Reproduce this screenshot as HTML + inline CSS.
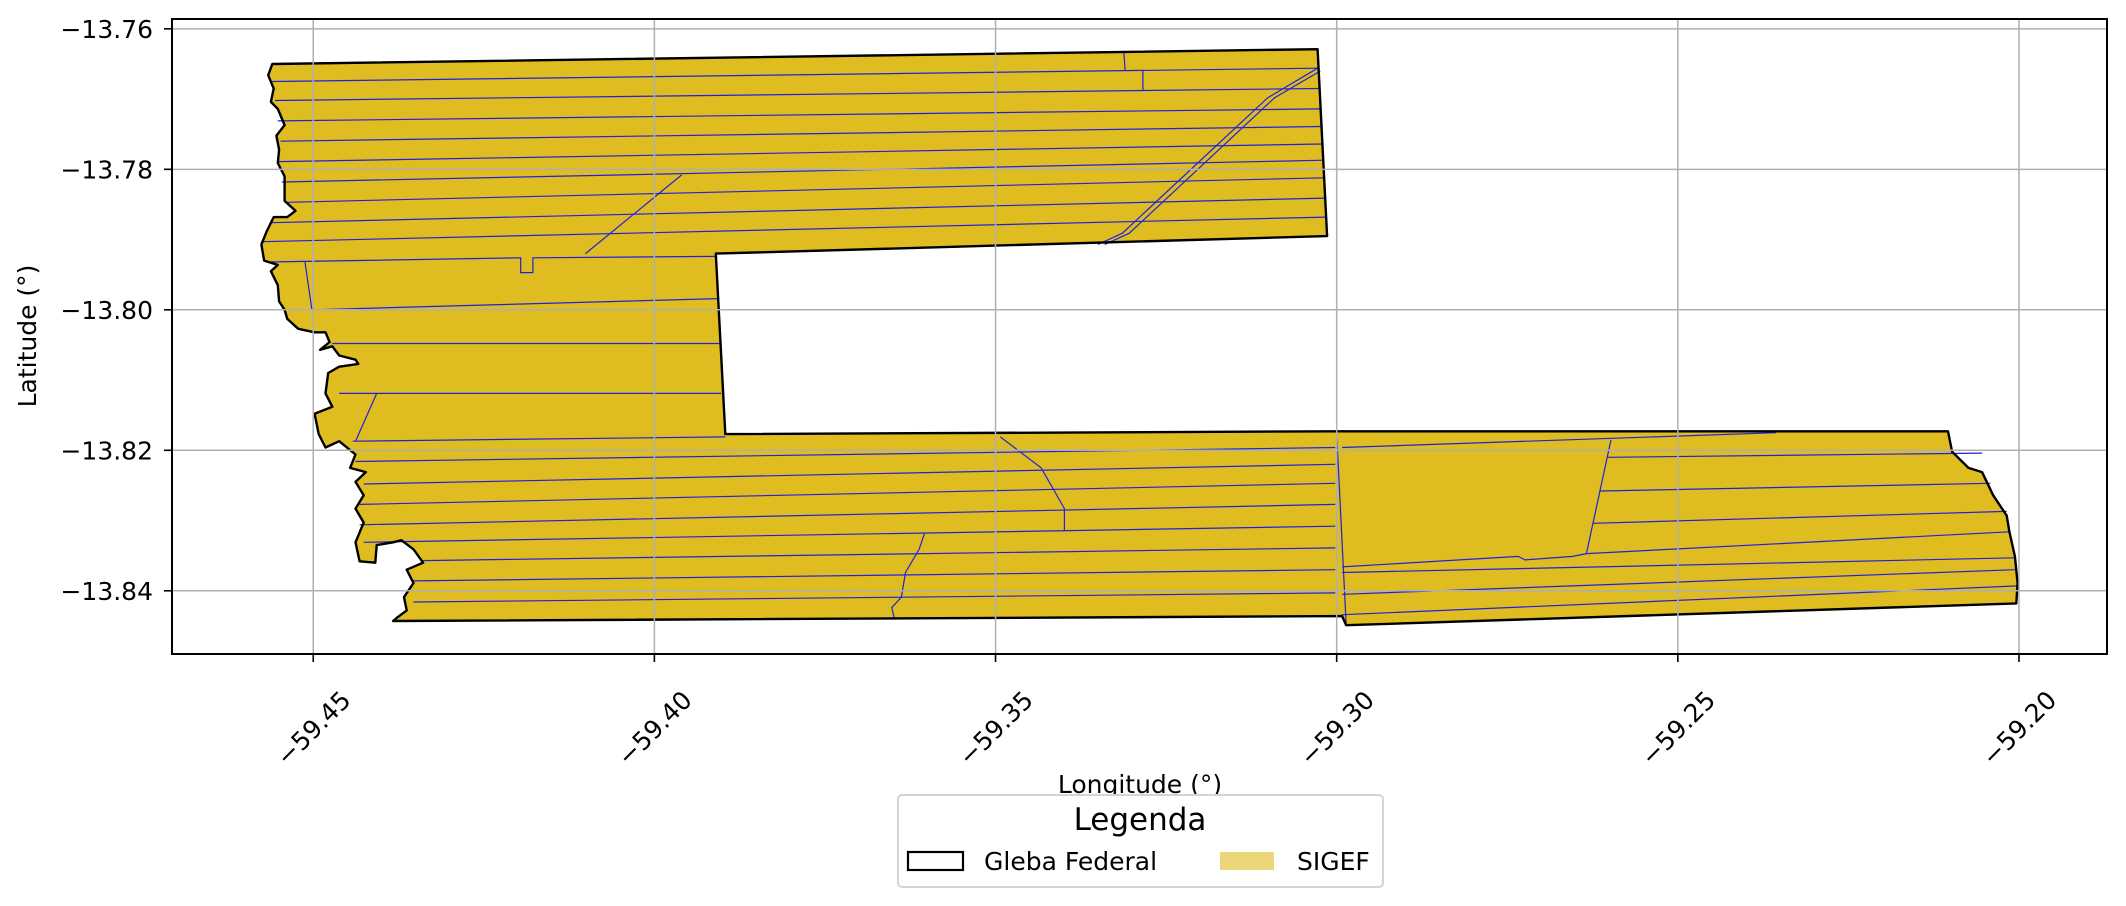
<!DOCTYPE html>
<html><head><meta charset="utf-8">
<style>
html,body{margin:0;padding:0;background:#fff;}
svg{display:block;font-family:"DejaVu Sans","Liberation Sans",sans-serif;}
</style></head>
<body>
<svg id="chart" width="2126" height="906" viewBox="0 0 2126 906" xmlns="http://www.w3.org/2000/svg">
  <rect x="0" y="0" width="2126" height="906" fill="#fff"/>
  <g id="plot"></g>
  <g id="grid"></g>
  <g id="axes"></g>
  <text x="36" y="336" transform="rotate(-90 36 336)" text-anchor="middle" font-size="25" fill="#000">Latitude (°)</text>
  <text x="1140" y="793" text-anchor="middle" font-size="25" fill="#000">Longitude (°)</text>
  <g>
    <rect x="898" y="795" width="485" height="92" rx="4" fill="#fff" stroke="#d4d4d4" stroke-width="2"/>
    <text x="1140" y="830" text-anchor="middle" font-size="31" fill="#000">Legenda</text>
    <rect x="908" y="852" width="55" height="18" fill="none" stroke="#000" stroke-width="2.2"/>
    <text x="984" y="870" font-size="25" fill="#000">Gleba Federal</text>
    <rect x="1220" y="852" width="54" height="18" fill="#ebd67a"/>
    <text x="1297" y="870" font-size="25" fill="#000">SIGEF</text>
  </g>
</svg>
<script>
// axis domains
const lonDomain = [-59.4707, -59.1871];
const latDomain = [-13.7586, -13.8490];
const xTicks = [-59.45, -59.40, -59.35, -59.30, -59.25, -59.20];
const xTickLabels = ["−59.45","−59.40","−59.35","−59.30","−59.25","−59.20"];
const yTicks = [-13.76, -13.78, -13.80, -13.82, -13.84];
const yTickLabels = ["−13.76","−13.78","−13.80","−13.82","−13.84"];

// Gleba Federal outline (lon, lat)
const glebaOutline = [
[-59.4560,-13.7650],[-59.3028,-13.7629],[-59.3014,-13.7895],[-59.3910,-13.7920],[-59.3896,-13.8177],
[-59.3002,-13.8173],[-59.2104,-13.8173],[-59.2098,-13.8202],[-59.2074,-13.8225],[-59.2054,-13.8231],
[-59.2038,-13.8264],[-59.2018,-13.8293],[-59.2014,-13.8316],[-59.2006,-13.8351],[-59.2002,-13.8389],
[-59.2004,-13.8418],[-59.2986,-13.8449],[-59.2992,-13.8436],[-59.4383,-13.8443],
[-59.4377,-13.8438],[-59.4363,-13.8428],[-59.4367,-13.8409],[-59.4353,-13.8389],[-59.4363,-13.8370],
[-59.4339,-13.8360],[-59.4353,-13.8341],[-59.4371,-13.8328],[-59.4383,-13.8331],[-59.4407,-13.8335],
[-59.4409,-13.8360],[-59.4432,-13.8358],[-59.4438,-13.8331],[-59.4426,-13.8303],[-59.4438,-13.8283],
[-59.4426,-13.8264],[-59.4438,-13.8245],[-59.4423,-13.8231],[-59.4446,-13.8225],[-59.4438,-13.8206],
[-59.4462,-13.8187],[-59.4482,-13.8196],[-59.4492,-13.8177],[-59.4498,-13.8148],[-59.4472,-13.8138],
[-59.4482,-13.8119],[-59.4478,-13.8090],[-59.4462,-13.8081],[-59.4434,-13.8077],[-59.4438,-13.8071],
[-59.4462,-13.8065],[-59.4472,-13.8052],[-59.4490,-13.8057],[-59.4476,-13.8046],[-59.4482,-13.8032],
[-59.4498,-13.8032],[-59.4522,-13.8027],[-59.4538,-13.8013],[-59.4542,-13.8000],[-59.4550,-13.7988],
[-59.4552,-13.7965],[-59.4562,-13.7945],[-59.4552,-13.7936],[-59.4572,-13.7930],[-59.4576,-13.7907],
[-59.4568,-13.7888],[-59.4558,-13.7868],[-59.4538,-13.7868],[-59.4526,-13.7859],[-59.4542,-13.7845],
[-59.4542,-13.7810],[-59.4552,-13.7791],[-59.4550,-13.7772],[-59.4554,-13.7752],[-59.4542,-13.7737],
[-59.4552,-13.7714],[-59.4562,-13.7704],[-59.4558,-13.7685],[-59.4566,-13.7666]
];

// SIGEF parcel boundaries (polylines, lon/lat)
const parcelLines = [
[[-59.4560,-13.7675],[-59.3028,-13.7656]],
[[-59.4556,-13.7702],[-59.3026,-13.7685]],
[[-59.4552,-13.7731],[-59.3024,-13.7714]],
[[-59.4548,-13.7760],[-59.3022,-13.7739]],
[[-59.4552,-13.7789],[-59.3020,-13.7764]],
[[-59.4546,-13.7818],[-59.3018,-13.7787]],
[[-59.4538,-13.7847],[-59.3018,-13.7812]],
[[-59.4562,-13.7876],[-59.3016,-13.7841]],
[[-59.4576,-13.7903],[-59.3016,-13.7868]],
[[-59.4568,-13.7932],[-59.4196,-13.7926],[-59.4196,-13.7947],[-59.4178,-13.7947],[-59.4178,-13.7926],[-59.3910,-13.7924]],
[[-59.4101,-13.7920],[-59.3960,-13.7808]],
[[-59.3350,-13.7907],[-59.3314,-13.7891],[-59.3101,-13.7698],[-59.3028,-13.7656]],
[[-59.3340,-13.7907],[-59.3304,-13.7891],[-59.3091,-13.7698],[-59.3024,-13.7660]],
[[-59.3312,-13.7633],[-59.3310,-13.7660]],
[[-59.3284,-13.7660],[-59.3284,-13.7687]],
[[-59.4512,-13.7932],[-59.4502,-13.8000],[-59.3906,-13.7984]],
[[-59.4472,-13.8048],[-59.3904,-13.8048]],
[[-59.4462,-13.8119],[-59.3902,-13.8119]],
[[-59.4407,-13.8119],[-59.4438,-13.8187]],
[[-59.4442,-13.8187],[-59.3896,-13.8181]],
[[-59.4438,-13.8216],[-59.3002,-13.8196]],
[[-59.4426,-13.8248],[-59.3002,-13.8220]],
[[-59.4432,-13.8277],[-59.3002,-13.8247]],
[[-59.4432,-13.8306],[-59.3002,-13.8277]],
[[-59.4426,-13.8331],[-59.3002,-13.8308]],
[[-59.4339,-13.8357],[-59.3002,-13.8339]],
[[-59.4353,-13.8386],[-59.3002,-13.8370]],
[[-59.4353,-13.8416],[-59.3002,-13.8403]],
[[-59.3493,-13.8181],[-59.3433,-13.8225],[-59.3399,-13.8283],[-59.3399,-13.8314]],
[[-59.3604,-13.8318],[-59.3612,-13.8341],[-59.3632,-13.8374],[-59.3638,-13.8409],[-59.3652,-13.8424],[-59.3648,-13.8441]],
[[-59.3000,-13.8177],[-59.2986,-13.8449]],
[[-59.2992,-13.8196],[-59.2356,-13.8175]],
[[-59.2598,-13.8185],[-59.2634,-13.8347]],
[[-59.2604,-13.8210],[-59.2054,-13.8204]],
[[-59.2614,-13.8258],[-59.2042,-13.8247]],
[[-59.2624,-13.8304],[-59.2018,-13.8287]],
[[-59.2634,-13.8347],[-59.2014,-13.8316]],
[[-59.2992,-13.8366],[-59.2734,-13.8351],[-59.2724,-13.8356],[-59.2654,-13.8351],[-59.2634,-13.8347]],
[[-59.2992,-13.8374],[-59.2006,-13.8353]],
[[-59.2992,-13.8405],[-59.2006,-13.8370]],
[[-59.2992,-13.8434],[-59.2002,-13.8393]]
];

const NS = "http://www.w3.org/2000/svg";
const L = 172, R = 2107, T = 19, B = 654;
function xs(lon){ return L + (lon - lonDomain[0]) / (lonDomain[1] - lonDomain[0]) * (R - L); }
function ys(lat){ return T + (lat - latDomain[0]) / (latDomain[1] - latDomain[0]) * (B - T); }
function mk(tag, attrs, parent){ const e = document.createElementNS(NS, tag); for (const k in attrs) e.setAttribute(k, attrs[k]); parent.appendChild(e); return e; }
function pts(arr){ return arr.map(p => xs(p[0]).toFixed(1) + "," + ys(p[1]).toFixed(1)).join(" "); }

const plot = document.getElementById("plot");
const fill = mk("polygon", {points: pts(glebaOutline), fill: "#dfbc1f", stroke: "none"}, plot);


parcelLines.forEach((ln, i) => {
  const p = mk("polyline", {points: pts(ln), fill: "none", stroke: "#2020e0", "stroke-width": "1.2"}, plot);
  
  
});
const outline = mk("polygon", {points: pts(glebaOutline), fill: "none", stroke: "#000", "stroke-width": "2.4", "stroke-linejoin": "round"}, plot);



const grid = document.getElementById("grid");
xTicks.forEach((v, i) => {
  const g = mk("line", {x1: xs(v), x2: xs(v), y1: T, y2: B, stroke: "#b0b0b0", "stroke-width": "1.5"}, grid);
  
  
});
yTicks.forEach((v, i) => {
  const g = mk("line", {x1: L, x2: R, y1: ys(v), y2: ys(v), stroke: "#b0b0b0", "stroke-width": "1.5"}, grid);
  
  
});

const axes = document.getElementById("axes");
const frame = mk("rect", {x: L, y: T, width: R - L, height: B - T, fill: "none", stroke: "#000", "stroke-width": "2"}, axes);


xTicks.forEach((v, i) => {
  const x = xs(v);
  const t = mk("line", {x1: x, x2: x, y1: B, y2: B + 8, stroke: "#000", "stroke-width": "1.6"}, axes);
  
  
  const cy = 728;
  const lbl = mk("text", {x: x, y: cy + 9, "text-anchor": "middle", "font-size": "25", fill: "#000", transform: "rotate(-45 " + x + " " + cy + ")"}, axes);
  lbl.textContent = xTickLabels[i];
  
  
});
yTicks.forEach((v, i) => {
  const y = ys(v);
  const t = mk("line", {x1: L - 8, x2: L, y1: y, y2: y, stroke: "#000", "stroke-width": "1.6"}, axes);
  
  
  const lbl = mk("text", {x: L - 19, y: y + 9, "text-anchor": "end", "font-size": "25", fill: "#000"}, axes);
  lbl.textContent = yTickLabels[i];
  
  
});
</script>
</body></html>
